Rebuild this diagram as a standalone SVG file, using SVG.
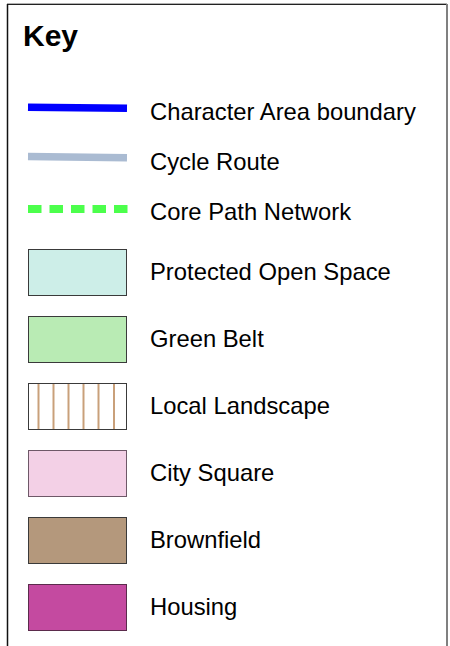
<svg xmlns="http://www.w3.org/2000/svg" width="450" height="646" viewBox="0 0 450 646">
<style>
  text { font-family: "Liberation Sans", Arial, sans-serif; fill: #000; }
  .lbl { font-size: 23.8px; }
  .title { font-size: 30px; font-weight: bold; }
  .sw { stroke: #3a3a3a; stroke-width: 1; }
  .hatch { stroke: #c9a07a; stroke-width: 2; }
</style>
<rect x="0" y="0" width="450" height="646" fill="#ffffff"/>
<g id="frame">
  <line x1="7" y1="3.5" x2="447" y2="3.5" stroke="#b0b0b0" stroke-width="1"/>
  <line x1="7" y1="4.5" x2="447" y2="4.5" stroke="#222" stroke-width="1"/>
  <line x1="7.5" y1="4" x2="7.5" y2="646" stroke="#111" stroke-width="1.5"/>
  <line x1="447" y1="4" x2="447" y2="646" stroke="#808080" stroke-width="2"/>
</g>
<g id="title"><text class="title" x="23" y="46">Key</text></g>
<g id="connectors">
  <line id="character-area" x1="28" y1="107.2" x2="127" y2="108.3" stroke="#0000ff" stroke-width="7.5"/>
  <line id="cycle-route" x1="28" y1="156.5" x2="127" y2="157.7" stroke="#aabbd2" stroke-width="7.5"/>
  <line id="core-path" x1="28" y1="209" x2="128" y2="209" stroke="#4cff4c" stroke-width="8" stroke-dasharray="13.5 8"/>
</g>
<g id="item-character"><text class="lbl" x="150" y="120">Character Area boundary</text></g>
<g id="item-cycle"><text class="lbl" x="150" y="170">Cycle Route</text></g>
<g id="item-core"><text class="lbl" x="150" y="220">Core Path Network</text></g>
<g id="item-protected">
  <rect class="sw" x="28.5" y="249.5" width="98" height="46" fill="#cdeee8"/>
  <text class="lbl" x="150" y="280">Protected Open Space</text>
</g>
<g id="item-greenbelt">
  <rect class="sw" x="28.5" y="316.5" width="98" height="46" fill="#b9ebb4"/>
  <text class="lbl" x="150" y="347">Green Belt</text>
</g>
<g id="item-local">
  <rect x="28.5" y="383.5" width="98" height="46" fill="#ffffff"/>
  <line class="hatch" x1="38.5" y1="384" x2="38.5" y2="429"/>
  <line class="hatch" x1="53.5" y1="384" x2="53.5" y2="429"/>
  <line class="hatch" x1="68.5" y1="384" x2="68.5" y2="429"/>
  <line class="hatch" x1="83.5" y1="384" x2="83.5" y2="429"/>
  <line class="hatch" x1="98.5" y1="384" x2="98.5" y2="429"/>
  <line class="hatch" x1="114" y1="384" x2="114" y2="429"/>
  <rect class="sw" x="28.5" y="383.5" width="98" height="46" fill="none"/>
  <text class="lbl" x="150" y="414">Local Landscape</text>
</g>
<g id="item-city">
  <rect x="28.5" y="450.5" width="98" height="46" fill="#f3d0e6" stroke="#6e5868" stroke-width="1"/>
  <text class="lbl" x="150" y="481">City Square</text>
</g>
<g id="item-brownfield">
  <rect class="sw" x="28.5" y="517.5" width="98" height="46" fill="#b4987c"/>
  <text class="lbl" x="150" y="548">Brownfield</text>
</g>
<g id="item-housing">
  <rect x="28.5" y="584.5" width="98" height="46" fill="#c44aa0" stroke="#5b2b4c" stroke-width="1"/>
  <text class="lbl" x="150" y="615">Housing</text>
</g>
</svg>
